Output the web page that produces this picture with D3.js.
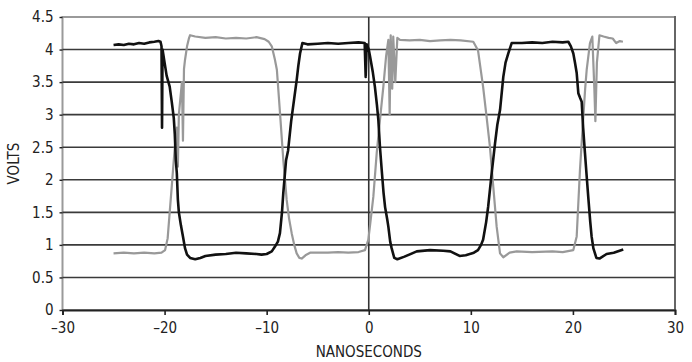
<!DOCTYPE html>
<html><head><meta charset="utf-8">
<script src="https://cdn.jsdelivr.net/npm/d3@7"></script>
<style>
body{margin:0;background:#fff;}
text{font-family:"Liberation Sans Narrow","DejaVu Sans Condensed","Roboto Condensed",sans-serif;fill:#222;}
</style></head>
<body><svg id="c" width="692" height="362"></svg>
<script>
const xTicks = [-30,-20,-10,0,10,20,30];
const yTicks = [0,0.5,1,1.5,2,2.5,3,3.5,4,4.5];
const xTitle = "NANOSECONDS";
const yTitle = "VOLTS";

const blackT = [-25,-24.5,-24,-23.5,-23,-22.5,-22,-21.5,-21,-20.6,-20.4,-20.3,-20.25,-20.2,-20,-19.8,-19.5,-19.3,-19.1,-19,-18.9,-18.8,-18.7,-18.6,-18.4,-18.2,-18,-17.8,-17.5,-17,-16.5,-16,-15,-14,-13,-12,-11,-10.5,-10,-9.5,-9.2,-8.9,-8.7,-8.5,-8.37,-8.1,-7.9,-7.6,-7.3,-7.06,-6.9,-6.73,-6.5,-6,-5,-4,-3,-2,-1,-0.4,-0.3,-0.2,0,0.12,0.4,0.6,0.8,0.94,1.1,1.27,1.45,1.6,1.8,1.92,2.1,2.24,2.5,2.8,3.5,4.7,6,7.3,8,8.9,9.5,10.3,10.7,11,11.2,11.5,11.7,12.04,12.37,12.6,12.86,13.18,13.4,13.67,14,15,16,17,18,19,19.55,19.8,20.04,20.2,20.37,20.53,20.7,20.86,21,21.18,21.35,21.5,21.7,21.83,22,22.3,22.6,23.3,24,24.93];
const blackV = [4.07,4.08,4.07,4.09,4.08,4.10,4.09,4.11,4.12,4.13,4.12,4.05,2.80,4.00,3.80,3.60,3.43,3.20,2.95,2.70,2.30,2.10,1.70,1.50,1.30,1.13,0.95,0.85,0.80,0.78,0.80,0.83,0.85,0.86,0.88,0.87,0.86,0.85,0.86,0.90,0.97,1.05,1.18,1.50,1.80,2.30,2.45,2.90,3.25,3.53,3.75,3.94,4.10,4.08,4.09,4.10,4.09,4.10,4.11,4.10,3.58,4.08,4.00,3.90,3.65,3.43,3.15,2.92,2.50,2.15,1.80,1.58,1.40,1.28,1.05,0.95,0.80,0.78,0.82,0.90,0.92,0.91,0.90,0.83,0.84,0.88,0.92,1.00,1.08,1.35,1.59,2.10,2.56,2.85,3.07,3.58,3.80,3.94,4.10,4.10,4.11,4.10,4.12,4.11,4.12,4.05,3.94,3.80,3.64,3.33,3.26,3.20,2.80,2.41,2.05,1.74,1.35,1.13,0.95,0.80,0.79,0.86,0.88,0.93];

const grayT = [-25,-24,-23,-22,-21,-20.3,-19.95,-19.7,-19.5,-19.3,-19.1,-18.97,-18.8,-18.7,-18.6,-18.5,-18.3,-18.2,-18.1,-18,-17.8,-17.6,-17.5,-17,-16,-15,-14,-13,-12,-11,-10.2,-9.8,-9.5,-9.2,-9,-8.69,-8.37,-8.04,-7.8,-7.55,-7.3,-7.06,-6.8,-6.57,-6.2,-5.75,-4,-3,-2,-1,-0.37,-0.04,0.2,0.45,0.78,1.1,1.43,1.7,1.92,2.05,2.15,2.3,2.4,2.6,2.8,3.06,4,5,6,7,8,9,10.24,10.7,11.2,11.54,11.87,12.2,12.53,12.86,13.18,13.8,14.49,16,18,19,20.04,20.37,20.69,21,21.2,21.35,21.67,21.9,22.1,22.2,22.35,22.6,23,23.5,23.9,24.24,24.6,24.9];
const grayV = [0.87,0.88,0.87,0.88,0.87,0.88,0.92,1.10,1.50,1.89,2.30,2.55,2.80,2.20,3.00,3.17,3.50,2.60,3.70,3.84,4.05,4.18,4.22,4.20,4.18,4.19,4.17,4.18,4.17,4.19,4.16,4.12,4.05,3.85,3.69,3.02,2.30,1.69,1.40,1.18,1.00,0.87,0.80,0.79,0.84,0.88,0.88,0.89,0.88,0.89,0.92,1.08,1.40,1.74,2.41,2.92,3.43,3.90,4.15,3.00,4.22,3.40,4.20,3.50,4.18,4.15,4.14,4.15,4.13,4.14,4.15,4.14,4.12,3.99,3.43,2.97,2.51,1.89,1.28,0.87,0.81,0.88,0.90,0.89,0.90,0.89,0.92,1.13,2.15,2.92,3.40,3.69,4.10,4.20,3.40,2.90,3.80,4.22,4.20,4.18,4.17,4.10,4.13,4.12];

const W = 692, H = 362;
const m = {l:62.5, r:W-675, t:17, b:H-310};
const svg = d3.select("#c");
const x = d3.scaleLinear().domain([-30,30]).range([m.l, W-m.r]);
const y = d3.scaleLinear().domain([0,4.5]).range([H-m.b, m.t]);

svg.append("rect").attr("x",x(-30)).attr("y",y(4.5)).attr("width",x(30)-x(-30)).attr("height",y(0)-y(4.5))
  .attr("fill","none").attr("stroke","#9a9a9a").attr("stroke-width",2);
svg.append("line").attr("x1",x(30)).attr("x2",x(30)).attr("y1",y(4.5)-1).attr("y2",y(0))
  .attr("stroke","#666").attr("stroke-width",2);

svg.append("g").selectAll("line").data(yTicks.filter(d=>d>0&&d<4.5)).join("line")
  .attr("x1",x(-30)).attr("x2",x(30)).attr("y1",d=>y(d)).attr("y2",d=>y(d))
  .attr("stroke","#3a3a3a").attr("stroke-width",1.6);

svg.append("line").attr("x1",x(0)).attr("x2",x(0)).attr("y1",y(4.5)).attr("y2",y(0))
  .attr("stroke","#333").attr("stroke-width",1.6);

const xa = svg.append("g").attr("transform",`translate(0,${y(0)})`)
  .call(d3.axisBottom(x).tickValues(xTicks).tickSize(5).tickPadding(7)
    .tickFormat(d=> d<0 ? "\u2013"+Math.abs(d) : String(d)));
xa.select(".domain").attr("stroke","#222").attr("stroke-width",1.8);
xa.selectAll(".tick line").attr("stroke","#222").attr("stroke-width",1.6);
xa.selectAll("text").attr("font-size",15).attr("fill","#222");

const ya = svg.append("g").attr("transform",`translate(${x(-30)},0)`)
  .call(d3.axisLeft(y).tickValues(yTicks).tickSize(3).tickPadding(6).tickFormat(d=>String(d)));
ya.select(".domain").remove();
ya.selectAll(".tick line").attr("stroke","#222").attr("stroke-width",1.4);
ya.selectAll("text").attr("font-size",15).attr("fill","#222");

svg.append("text").attr("x",x(0)).attr("y",357).attr("text-anchor","middle").attr("font-size",15).text(xTitle);
svg.append("text").attr("transform",`translate(19,${(y(0)+y(4.5))/2}) rotate(-90)`).attr("text-anchor","middle")
  .attr("font-size",15).text(yTitle);

const line = d3.line().x(d=>x(d[0])).y(d=>y(d[1]));
svg.append("path").datum(grayT.map((t,i)=>[t,grayV[i]])).attr("d",line)
  .attr("fill","none").attr("stroke","#999").attr("stroke-width",2.2).attr("stroke-linejoin","round");
svg.append("path").datum(blackT.map((t,i)=>[t,blackV[i]])).attr("d",line)
  .attr("fill","none").attr("stroke","#111").attr("stroke-width",2.6).attr("stroke-linejoin","round");
</script></body></html>
